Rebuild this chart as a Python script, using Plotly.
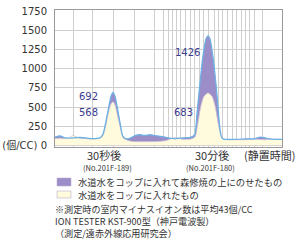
import plotly.graph_objects as go

# time axis (arbitrary units across the chart) and series values (個/CC)
t_purple = [0, 5, 10, 15, 20, 25, 30, 35, 40, 45, 48, 51, 54, 56, 58, 60, 62, 65, 68, 72, 76, 80, 85, 90,
            95, 100, 105, 110, 115, 120, 125, 130, 135, 138, 140, 142, 145, 148, 151, 153, 155, 158, 161,
            163, 165, 167, 170, 180, 190, 200, 205, 210, 215, 220, 227]
v_purple = [110, 125, 100, 95, 100, 105, 100, 90, 90, 100, 150, 320, 520, 640, 692, 640, 520, 300, 120, 85,
            100, 130, 140, 130, 140, 130, 120, 110, 95, 85, 95, 100, 105, 120, 150, 420, 820, 1170, 1390,
            1426, 1390, 1150, 800, 500, 220, 95, 80, 80, 85, 90, 110, 100, 85, 80, 80]

t_yellow = [0, 5, 10, 14, 18, 22, 25, 30, 35, 40, 45, 48, 51, 54, 56, 58, 60, 62, 65, 68, 72, 76, 80, 90,
            100, 110, 115, 118, 121, 124, 128, 132, 136, 140, 143, 146, 149, 153, 157, 160, 163, 166, 168,
            172, 180, 190, 200, 210, 220, 227]
v_yellow = [90, 95, 90, 100, 130, 105, 95, 90, 85, 85, 95, 130, 270, 460, 540, 568, 530, 420, 250, 100, 70,
            55, 50, 50, 50, 60, 80, 100, 105, 95, 80, 80, 85, 110, 300, 520, 640, 683, 640, 520, 300, 120,
            80, 75, 75, 75, 80, 75, 80, 80]

grid_x = [18, 37, 58, 79, 99, 108, 113, 117, 121, 125, 130, 135, 139, 144, 148, 153, 159, 163, 167, 172,
          177, 181, 186, 190, 194, 199, 207]
y_ticks = [0, 250, 500, 750, 1000, 1250, 1500, 1750]
y_tick_text = ["(個/CC) 0", "250", "500", "750", "1000", "1250", "1500", "1750"]

peak_labels = [("692", 33, 640), ("568", 33, 431), ("1426", 132, 1214), ("683", 128, 431)]
legend_names = ["水道水をコップに入れて森修焼の上にのせたもの", "水道水をコップに入れたもの"]
notes = ["※測定時の室内マイナスイオン数は平均43個/CC", "ION TESTER KST-900型（神戸電波製）", "（測定/遠赤外線応用研究会）"]

PURPLE = "#9b8dc8"
CREAM = "#fffbdc"
BLUE = "#6ab2e6"
TXT = "#333333"
LBL = "#3b3b8e"
JP = "Noto Sans CJK JP"

L, R, T, B = 55, 282, 10, 147
W, H = R - L, B - T


def px(x):
    return (x - L) / W


def py(y):
    return (B - y) / H


fig = go.Figure()
fig.add_trace(go.Scatter(x=t_purple, y=v_purple, fill="tozeroy", fillcolor=PURPLE, mode="lines",
                         line=dict(width=0, color=PURPLE, shape="spline", smoothing=0.6),
                         name=legend_names[0], showlegend=False))
fig.add_trace(go.Scatter(x=t_yellow, y=v_yellow, fill="tozeroy", fillcolor=CREAM, mode="lines",
                         line=dict(width=0.8, color="#c9c2d8", shape="spline", smoothing=0.6),
                         name=legend_names[1], showlegend=False))
fig.add_trace(go.Scatter(x=t_purple, y=v_purple, mode="lines",
                         line=dict(width=1.2, color=BLUE, shape="spline", smoothing=0.6),
                         showlegend=False, hoverinfo="skip"))

for txt, x, y in peak_labels:
    fig.add_annotation(x=x, y=y, xref="x", yref="y", text=txt, showarrow=False,
                       xanchor="center", yanchor="middle",
                       font=dict(family="DejaVu Sans", size=10, color=LBL))

# x category labels
xlabels = [("30秒後", 104, 11, 155), ("(No.201F-189)", 107, 7.5, 167),
           ("30分後", 212, 11, 155), ("(No.201F-180)", 210, 7.5, 167), ("(静置時間)", 269, 11, 155)]
for txt, x, sz, y in xlabels:
    fig.add_annotation(x=px(x), xref="paper", y=py(y), yref="paper", xanchor="center", yanchor="middle",
                       text=txt, showarrow=False, font=dict(family=JP, size=sz, color=TXT))

# legend boxes and text
for i, (name, col) in enumerate(zip(legend_names, [PURPLE, CREAM])):
    y0, y1 = [(178, 186), (191, 198)][i]
    fig.add_shape(type="rect", xref="paper", yref="paper", x0=px(57), x1=px(71),
                  y0=py(y1), y1=py(y0), fillcolor=col,
                  line=dict(color="#b8b0d0", width=0.6))
    fig.add_annotation(x=px(76), xref="paper", y=py((y0 + y1) / 2), yref="paper",
                       xanchor="left", yanchor="middle", text=name, showarrow=False,
                       font=dict(family=JP, size=9.3, color=TXT))

fig.add_annotation(x=px(53), xref="paper", y=py(221), yref="paper",
                   xanchor="left", yanchor="middle", align="left", text="<br>".join(notes),
                   showarrow=False, font=dict(family=JP, size=9.1, color=TXT))

fig.update_layout(
    width=300, height=241, margin=dict(l=L, r=300 - R, t=T, b=241 - B),
    paper_bgcolor="white", plot_bgcolor="white",
    xaxis=dict(range=[0, 227], tickvals=grid_x, showticklabels=False, ticks="",
               showgrid=True, gridcolor="#cfcfcf", gridwidth=1, zeroline=False,
               showline=True, linecolor="#999999", linewidth=1, mirror=True, automargin=False),
    yaxis=dict(range=[-20, 1763], tickvals=y_ticks, ticktext=y_tick_text, ticks="",
               showgrid=True, gridcolor="#cfcfcf", gridwidth=1, zeroline=False,
               showline=True, linecolor="#999999", linewidth=1, mirror=True,
               tickfont=dict(family="DejaVu Sans, " + JP, size=10, color=TXT),
               ticklabelstandoff=5, automargin=False),
    font=dict(family=JP),
)

fig.write_html("out.html")
